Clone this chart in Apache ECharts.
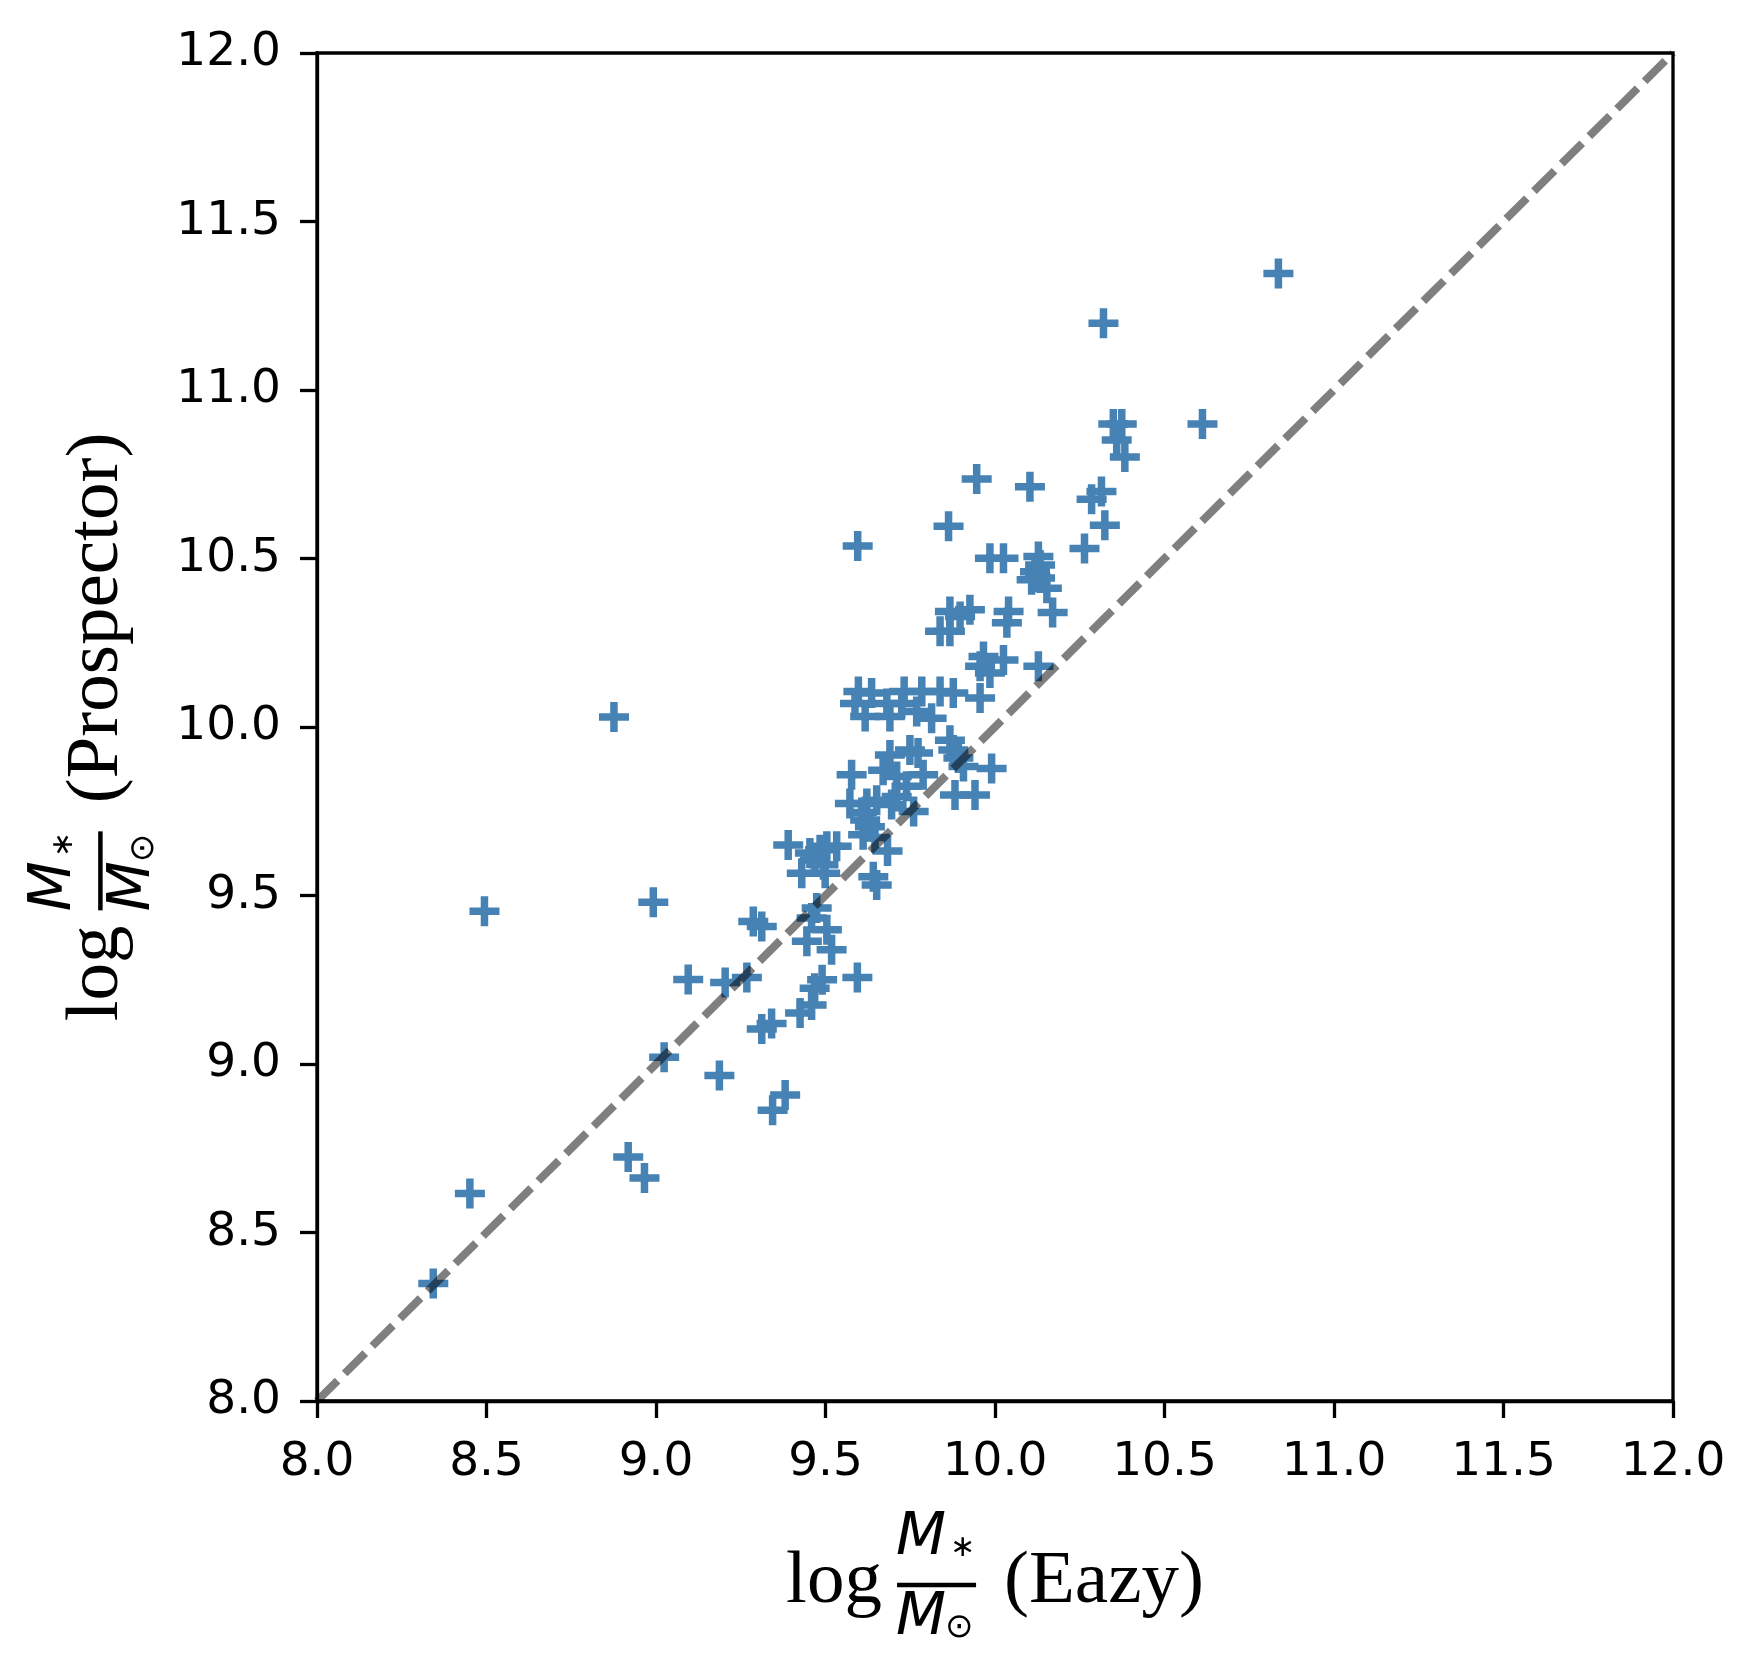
<!DOCTYPE html>
<html>
<head>
<meta charset="utf-8">
<title>Eazy vs Prospector stellar mass</title>
<script src="https://cdn.jsdelivr.net/npm/echarts@6/dist/echarts.min.js"></script>
<style>
    html, body { margin: 0; padding: 0; background: #fff; }
    #chart { width: 1762px; height: 1657px; }
</style>
</head>
<body>
<div id="chart"></div>
<script>
// log M*/Msun from Eazy (x) and Prospector (y)
var eazyMass = [
    8.343, 8.451, 8.494, 8.876, 8.918, 8.966, 8.992, 9.024, 9.095, 9.187,
    9.204, 9.268, 9.287, 9.312, 9.312, 9.341, 9.344, 9.381, 9.390, 9.425,
    9.459, 9.468, 9.490, 9.594, 9.445, 9.459, 9.474, 9.504, 9.518, 9.430,
    9.499, 9.454, 9.484, 9.504, 9.533, 9.469, 9.494, 9.631, 9.641, 9.651,
    9.572, 9.622, 9.607, 9.651, 9.710, 9.760, 9.611, 9.646, 9.683, 9.617,
    9.695,
    9.577, 9.690, 9.749, 9.773, 9.670, 9.710, 9.788, 9.739, 9.867, 9.877,
    9.892, 9.907, 9.882, 9.941, 9.990,
    9.597, 9.587, 9.636, 9.617, 9.681, 9.690, 9.732, 9.725, 9.784, 9.769,
    9.813, 9.838, 9.877, 9.956,
    9.966, 10.025, 9.956, 9.985, 10.128, 9.867, 9.926, 9.897, 9.838, 9.867,
    10.040, 10.035, 10.170,
    9.946, 10.103, 10.314, 10.285, 9.863, 10.324, 10.264, 9.985, 10.025, 10.128,
    10.133, 10.118, 10.108, 10.133, 10.153, 9.595,
    10.320, 10.836, 10.349, 10.374, 10.359, 10.383, 10.612
];
var prospectorMass = [
    8.349, 8.616, 9.453, 10.030, 8.724, 8.662, 9.480, 9.020, 9.251, 8.966,
    9.242, 9.257, 9.423, 9.408, 9.104, 9.120, 8.863, 8.908, 9.650, 9.151,
    9.175, 9.225, 9.250, 9.257, 9.364, 9.433, 9.463, 9.398, 9.339, 9.566,
    9.566, 9.626, 9.636, 9.646, 9.646, 9.605, 9.591, 9.704, 9.556, 9.531,
    9.773, 9.773, 9.746, 9.783, 9.794, 9.749, 9.680, 9.672, 9.632, 9.724,
    9.770,
    9.858, 9.917, 9.932, 9.923, 9.872, 9.853, 9.858, 9.824, 9.961, 9.932,
    9.908, 9.883, 9.798, 9.798, 9.877,
    10.105, 10.070, 10.101, 10.031, 10.070, 10.031, 10.105, 10.070, 10.105, 10.046,
    10.026, 10.105, 10.101, 10.086,
    10.209, 10.199, 10.180, 10.160, 10.180, 10.343, 10.348, 10.328, 10.284, 10.284,
    10.343, 10.309, 10.340,
    10.736, 10.713, 10.699, 10.676, 10.596, 10.599, 10.530, 10.501, 10.501, 10.506,
    10.481, 10.461, 10.437, 10.442, 10.412, 10.537,
    11.198, 11.346, 10.899, 10.899, 10.852, 10.801, 10.899
];

// one-to-one reference line and axis range
var identityLine = [[8, 8], [12, 12]];
var axisMin = 8, axisMax = 12, tickStep = 0.5;

var points = eazyMass.map(function (x, i) { return [x, prospectorMass[i]]; });

var plusPath = 'path://M11.25,0H18.75V11.25H30V18.75H18.75V30H11.25V18.75H0V11.25H11.25Z';

var serif = '"Liberation Serif", "Times New Roman", serif';
var sans = '"DejaVu Sans", sans-serif';

// "log M*/M_sun (suffix)" laid out along a baseline, centred on the group origin
function axisTitle(suffix) {
    var mainFs = 75, fracFs = 58, subFs = 30;
    var ctx = document.createElement('canvas').getContext('2d');
    ctx.font = mainFs + 'px ' + serif;
    var total = 218 + ctx.measureText(suffix).width;
    var o = -total / 2;
    function txt(s, x, base, fs, family, style) {
        return {
            type: 'text', x: o + x, y: base - 0.3 * fs, silent: true,
            style: {
                text: s, fill: '#000',
                font: (style ? style + ' ' : '') + fs + 'px ' + family,
                align: 'left', verticalAlign: 'middle'
            }
        };
    }
    return [
        txt('log', 0, 0, mainFs, serif),
        txt('M', 110, -48, fracFs, sans, 'italic'),
        txt('\u2217', 164, -47, subFs, sans),
        {
            type: 'line', silent: true,
            shape: { x1: o + 111, y1: -19.6, x2: o + 190, y2: -19.6 },
            style: { stroke: '#000', lineWidth: 4.5 }
        },
        txt('M', 110, 31.4, fracFs, sans, 'italic'),
        txt('\u2299', 159, 34, subFs + 4, sans),
        txt(suffix, 218, 0, mainFs, serif)
    ];
}

var chart = echarts.init(document.getElementById('chart'));

var option = {
    animation: false,
    backgroundColor: '#fff',
    grid: {
        left: 317, top: 53, width: 1356, height: 1348,
        show: true, borderColor: '#000', borderWidth: 3.3,
        outerBoundsMode: 'none'
    },
    xAxis: {
        type: 'value', min: axisMin, max: axisMax, interval: tickStep,
        axisLine: { show: true, lineStyle: { color: '#000', width: 3.3 } },
        axisTick: { show: true, length: 17, lineStyle: { color: '#000', width: 3.3 } },
        axisLabel: {
            margin: 38, color: '#000', fontSize: 47, fontFamily: 'DejaVu Sans',
            formatter: function (v) { return v.toFixed(1); }
        },
        splitLine: { show: false }
    },
    yAxis: {
        type: 'value', min: axisMin, max: axisMax, interval: tickStep,
        axisLine: { show: true, lineStyle: { color: '#000', width: 3.3 } },
        axisTick: { show: true, length: 17, lineStyle: { color: '#000', width: 3.3 } },
        axisLabel: {
            margin: 36, color: '#000', fontSize: 47, fontFamily: 'DejaVu Sans',
            formatter: function (v) { return v.toFixed(1); }
        },
        splitLine: { show: false }
    },
    series: [
        {
            type: 'scatter',
            data: points,
            symbol: plusPath,
            symbolSize: 30,
            itemStyle: { color: '#4682b4', opacity: 1 },
            z: 2
        },
        {
            type: 'line',
            data: identityLine,
            symbol: 'none',
            silent: true,
            lineStyle: { color: 'rgba(0,0,0,0.5)', width: 8, type: [29, 10], cap: 'butt' },
            z: 3
        }
    ],
    graphic: [
        { type: 'group', x: 995, y: 1604.6, children: axisTitle('(Eazy)') },
        { type: 'group', x: 120, y: 727, rotation: Math.PI / 2, children: axisTitle('(Prospector)') }
    ]
};

chart.setOption(option);
</script>
</body>
</html>
